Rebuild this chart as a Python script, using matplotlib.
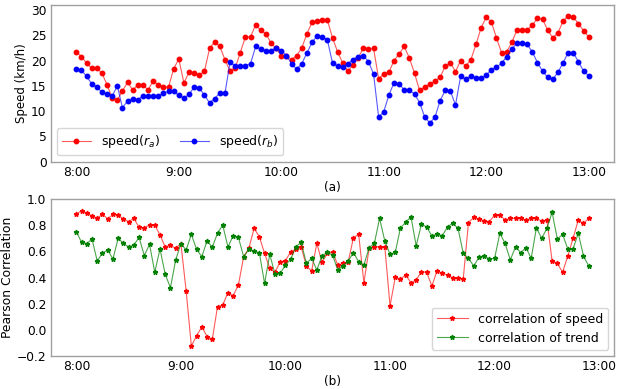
import numpy as np
import matplotlib
matplotlib.use("Agg")
import matplotlib.pyplot as plt

# ---- data ----
tick_labels = ["8:00", "9:00", "10:00", "11:00", "12:00", "13:00"]
tick_minutes = [0, 60, 120, 180, 240, 300]

speed_ra = [21.7, 20.8, 19.5, 18.5, 18.5, 17.5, 15.2, 12.6, 12.2, 14.0,
            15.7, 14.2, 15.2, 15.2, 14.2, 16.0, 15.2, 14.8, 14.8, 18.4,
            20.3, 15.6, 17.7, 17.5, 17.1, 17.9, 22.4, 23.7, 22.8, 20.2,
            17.9, 18.5, 21.6, 24.7, 24.7, 27.1, 26.0, 25.3, 23.5, 22.4,
            21.0, 21.0, 20.2, 21.0, 22.5, 25.3, 27.6, 27.9, 28.1, 28.0,
            24.5, 21.7, 19.5, 17.9, 19.2, 20.5, 22.5, 22.2, 22.5, 16.4,
            17.4, 17.7, 20.0, 21.3, 22.8, 20.5, 17.5, 14.1, 14.8, 15.4,
            16.0, 16.7, 18.9, 19.6, 17.8, 20.0, 18.9, 20.2, 23.2, 26.5,
            28.6, 27.6, 24.5, 21.5, 21.8, 23.6, 26.1, 26.1, 26.1, 27.0,
            28.4, 28.2, 26.0, 24.5, 25.5, 27.8, 28.9, 28.6, 27.3, 25.9,
            24.7]

speed_rb = [18.3, 18.1, 16.9, 15.4, 14.7, 13.8, 13.4, 13.0, 15.0, 10.7,
            12.0, 12.4, 12.3, 13.0, 13.0, 13.0, 13.0, 13.5, 14.0, 13.9,
            13.1, 12.6, 13.3, 14.8, 14.5, 13.2, 11.6, 12.5, 13.6, 13.5,
            19.7, 18.9, 18.9, 19.0, 19.4, 22.8, 22.3, 22.0, 22.0, 22.5,
            22.0, 21.0, 19.4, 18.3, 19.4, 21.5, 23.6, 24.9, 24.7, 24.1,
            19.5, 18.9, 18.7, 19.4, 20.2, 20.8, 21.0, 19.8, 17.4, 8.8,
            9.9, 13.2, 15.6, 15.4, 14.2, 14.1, 13.4, 11.7, 8.8, 7.7,
            8.8, 12.1, 14.1, 14.0, 11.2, 16.9, 16.3, 17.0, 16.5, 16.5,
            17.1, 18.2, 18.7, 19.5, 20.8, 22.3, 23.5, 23.5, 23.2, 21.7,
            19.6, 17.9, 16.7, 16.3, 17.7, 19.6, 21.6, 21.5, 19.8, 17.9,
            17.0]

corr_speed = [0.885, 0.911, 0.890, 0.873, 0.852, 0.885, 0.847, 0.883, 0.878, 0.847,
              0.827, 0.852, 0.783, 0.781, 0.801, 0.801, 0.725, 0.633, 0.648, 0.623,
              0.659, 0.299, -0.124, -0.045, 0.024, -0.052, -0.073, 0.177, 0.190, 0.284,
              0.261, 0.343, 0.559, 0.623, 0.776, 0.712, 0.585, 0.470, 0.440, 0.521,
              0.529, 0.597, 0.615, 0.635, 0.488, 0.450, 0.661, 0.516, 0.585, 0.597,
              0.495, 0.508, 0.521, 0.704, 0.730, 0.360, 0.623, 0.635, 0.635, 0.635,
              0.184, 0.401, 0.388, 0.419, 0.360, 0.381, 0.444, 0.440, 0.335, 0.452,
              0.432, 0.419, 0.399, 0.394, 0.389, 0.819, 0.860, 0.847, 0.834, 0.827,
              0.878, 0.878, 0.839, 0.852, 0.852, 0.852, 0.839, 0.852, 0.852, 0.832,
              0.840, 0.526, 0.508, 0.440, 0.564, 0.699, 0.839, 0.814, 0.852]

corr_trend = [0.750, 0.669, 0.659, 0.694, 0.526, 0.587, 0.610, 0.541, 0.699, 0.661,
              0.633, 0.648, 0.707, 0.567, 0.654, 0.440, 0.618, 0.424, 0.322, 0.534,
              0.659, 0.610, 0.730, 0.615, 0.559, 0.681, 0.631, 0.738, 0.801, 0.633,
              0.720, 0.707, 0.559, 0.615, 0.600, 0.590, 0.355, 0.577, 0.424, 0.432,
              0.495, 0.541, 0.635, 0.669, 0.508, 0.547, 0.457, 0.567, 0.592, 0.572,
              0.457, 0.488, 0.526, 0.590, 0.521, 0.495, 0.628, 0.661, 0.852, 0.679,
              0.577, 0.592, 0.781, 0.821, 0.865, 0.643, 0.806, 0.788, 0.717, 0.732,
              0.720, 0.788, 0.814, 0.776, 0.585, 0.547, 0.488, 0.554, 0.567, 0.541,
              0.547, 0.738, 0.661, 0.534, 0.635, 0.590, 0.628, 0.547, 0.781, 0.699,
              0.776, 0.898, 0.694, 0.730, 0.618, 0.618, 0.738, 0.564, 0.488]

step_min = 3
t_top = np.arange(len(speed_ra)) * step_min
t_bot = np.arange(len(corr_speed)) * step_min

# ---- figure ----
plt.rcParams["font.family"] = "DejaVu Sans"
fig = plt.figure(figsize=(6.23, 3.89), dpi=100)
ax1 = fig.add_axes([0.0814, 0.5843, 0.9047, 0.4028])
ax2 = fig.add_axes([0.0814, 0.0848, 0.9047, 0.4036])

line_kw = dict(linewidth=0.8)
ax1.plot(t_top, speed_ra, color=(1, 0, 0, 0.65), marker="o", markersize=3.2,
         markerfacecolor="r", markeredgecolor="r", label=r"speed($r_a$)", **line_kw)
ax1.plot(t_top, speed_rb, color=(0, 0, 1, 0.65), marker="o", markersize=3.2,
         markerfacecolor="b", markeredgecolor="b", label=r"speed($r_b$)", **line_kw)
ax1.set_ylim(0, 31)
ax1.set_yticks([0, 5, 10, 15, 20, 25, 30])
ax1.set_ylabel("Speed (km/h)", fontsize=8.5, labelpad=2)
ax1.set_xlabel("(a)", fontsize=8.7, labelpad=1.5)
ax1.legend(loc="lower left", ncol=2, fontsize=9, handlelength=2.3,
           borderpad=0.4, columnspacing=1.6)

ax2.plot(t_bot, corr_speed, color=(1, 0, 0, 0.65), marker="*", markersize=3.5,
         markerfacecolor="r", markeredgecolor="r", label="correlation of speed", **line_kw)
ax2.plot(t_bot, corr_trend, color=(0, 0.5, 0, 0.7), marker="*", markersize=3.5,
         markerfacecolor="g", markeredgecolor="g", label="correlation of trend", **line_kw)
ax2.set_ylim(-0.2, 1.0)
ax2.set_yticks([-0.2, 0.0, 0.2, 0.4, 0.6, 0.8, 1.0])
ax2.set_ylabel("Pearson Correlation", fontsize=8.9, labelpad=2)
ax2.set_xlabel("(b)", fontsize=8.7, labelpad=1.5)
ax2.legend(loc="lower right", fontsize=9, handlelength=2.5, borderpad=0.4)

for ax in (ax1, ax2):
    ax.set_xticks(tick_minutes)
    ax.set_xticklabels(tick_labels)
    ax.tick_params(axis="both", length=0, labelsize=8.8, pad=3)
    for s in ax.spines.values():
        s.set_color("#a0a0a0")
        s.set_linewidth(1.0)

fig.savefig("out.png", dpi=100)
